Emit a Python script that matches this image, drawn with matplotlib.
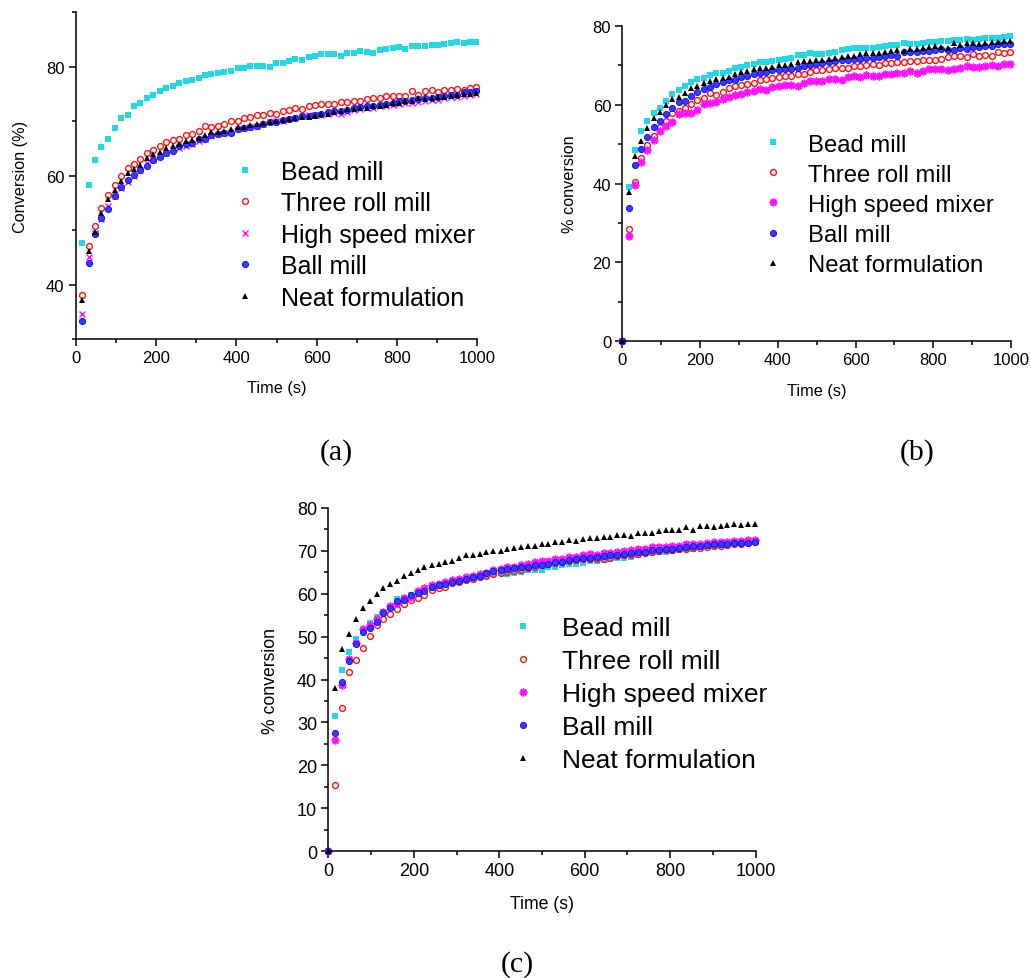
import matplotlib
matplotlib.use("Agg")
import matplotlib.pyplot as plt
from matplotlib.ticker import MultipleLocator

W, H = 1031, 979
DPI = 100

# sampling times (s)
time_s = [16, 32, 48, 64, 81, 97, 113, 129, 145, 161, 177, 193, 209, 225, 242, 258,
          274, 290, 306, 322, 338, 354, 370, 386, 403, 419, 435, 451, 467, 483, 499,
          515, 531, 547, 564, 580, 596, 612, 628, 644, 660, 676, 692, 708, 725, 741,
          757, 773, 789, 805, 821, 837, 853, 869, 886, 902, 918, 934, 950, 966, 982, 998]

labels = ["Bead mill", "Three roll mill", "High speed mixer", "Ball mill", "Neat formulation"]

# ---- (a) conversion (%) ----
a_bead = [47.7, 58.3, 62.9, 65.3, 66.8, 68.7, 70.6, 71.2, 72.7, 73.4, 74.2, 74.9, 75.5, 76.1,
          76.4, 77.1, 77.4, 77.6, 78.0, 78.5, 78.7, 78.8, 79.1, 79.3, 79.7, 79.7, 80.2, 80.1,
          80.2, 79.9, 80.6, 80.6, 81.1, 81.4, 81.3, 81.7, 81.9, 82.4, 82.4, 82.4, 82.0, 82.6,
          82.6, 82.9, 82.7, 82.5, 83.1, 83.2, 83.5, 83.6, 83.3, 83.9, 83.9, 83.9, 84.0, 84.0,
          84.1, 84.4, 84.6, 84.3, 84.6, 84.6]
a_three = [38.1, 47.1, 50.7, 54.0, 56.5, 58.3, 59.9, 61.4, 62.2, 63.0, 64.1, 64.8, 65.4, 66.1,
           66.5, 66.8, 67.4, 67.6, 68.2, 69.1, 69.0, 69.2, 69.5, 70.1, 70.1, 70.6, 70.8, 71.1,
           71.2, 71.5, 71.4, 71.9, 72.0, 72.5, 72.3, 72.8, 73.0, 73.1, 73.2, 73.2, 73.6, 73.6,
           73.8, 73.8, 74.1, 74.2, 74.2, 74.6, 74.7, 74.7, 74.7, 75.5, 74.9, 75.6, 75.7, 75.4,
           75.7, 75.8, 76.0, 75.8, 76.1, 76.2]
a_hsm = [34.6, 45.1, 49.4, 52.1, 54.5, 56.2, 57.7, 58.8, 59.9, 61.1, 62.4, 62.8, 63.7, 64.2,
         64.9, 65.1, 65.4, 65.9, 66.4, 66.7, 67.3, 67.7, 67.9, 68.1, 68.6, 68.8, 69.0, 69.2,
         69.5, 69.8, 70.0, 70.1, 70.4, 70.6, 71.0, 71.1, 71.1, 71.2, 71.4, 71.5, 71.4, 71.6,
         72.0, 72.2, 72.4, 72.5, 72.8, 72.8, 73.0, 73.1, 73.3, 73.4, 73.6, 73.8, 73.9, 73.9,
         74.2, 74.4, 74.5, 74.7, 74.8, 75.0]
a_ball = [33.3, 44.0, 49.2, 52.3, 53.9, 56.3, 58.0, 59.2, 60.1, 61.1, 61.7, 62.9, 63.4, 64.1,
          64.5, 65.5, 65.9, 66.0, 66.7, 66.7, 67.4, 67.6, 67.8, 67.9, 68.5, 68.7, 68.9, 69.1,
          69.4, 69.8, 69.9, 70.2, 70.4, 70.6, 70.9, 71.0, 71.2, 71.4, 71.7, 71.8, 71.8, 72.0,
          72.5, 72.6, 72.7, 72.8, 72.9, 73.2, 73.4, 73.7, 73.8, 73.9, 74.1, 74.2, 74.3, 74.4,
          74.7, 74.9, 74.9, 75.3, 75.3, 75.5]
a_neat = [37.1, 46.1, 49.6, 53.1, 55.7, 57.3, 59.0, 60.5, 61.2, 62.0, 63.2, 63.9, 64.4, 65.1,
          65.5, 65.8, 66.3, 66.5, 67.0, 67.4, 68.0, 68.1, 68.2, 68.5, 68.9, 69.0, 69.3, 69.5,
          69.7, 69.8, 70.0, 70.3, 70.4, 70.6, 70.7, 70.8, 71.0, 71.3, 71.3, 71.7, 71.9, 72.2,
          72.2, 72.4, 72.5, 72.7, 72.8, 73.0, 73.3, 73.4, 73.8, 73.8, 74.2, 74.1, 74.2, 74.5,
          74.5, 74.7, 74.9, 75.0, 75.0, 75.2]

# ---- (b) % conversion ----
b_bead = [39.2, 48.6, 53.3, 55.8, 58.0, 59.3, 61.0, 62.7, 63.7, 64.7, 65.7, 66.5, 66.8, 67.6,
          68.1, 68.1, 68.7, 69.4, 69.6, 70.0, 70.3, 70.9, 70.9, 71.1, 71.3, 71.7, 71.9, 72.6,
          72.6, 73.1, 73.0, 73.0, 73.2, 73.3, 73.9, 74.2, 74.3, 74.3, 74.5, 74.5, 74.7, 74.9,
          75.2, 75.3, 75.7, 75.5, 75.5, 75.7, 75.9, 75.9, 76.2, 76.2, 76.4, 76.5, 76.8, 76.4,
          76.7, 76.9, 77.0, 77.0, 77.1, 77.4]
b_three = [28.4, 40.5, 46.6, 49.9, 52.2, 54.5, 56.0, 57.8, 58.4, 59.3, 60.1, 61.2, 61.8, 62.9,
           62.6, 63.3, 64.2, 64.7, 65.1, 65.4, 65.5, 66.4, 66.6, 66.8, 67.1, 67.4, 67.4, 67.7,
           67.9, 68.4, 68.8, 68.9, 69.2, 69.3, 69.4, 69.3, 69.8, 69.8, 70.0, 70.3, 70.0, 70.5,
           70.6, 70.9, 70.8, 71.0, 71.2, 71.5, 71.5, 71.5, 71.7, 72.1, 72.3, 72.3, 72.2, 72.8,
           72.5, 72.6, 72.3, 73.3, 73.2, 73.3]
b_hsm = [26.8, 39.7, 45.6, 48.6, 51.2, 53.3, 54.6, 55.6, 57.6, 58.0, 58.0, 58.7, 60.3, 60.4,
         60.8, 61.5, 61.9, 62.4, 62.7, 63.3, 63.4, 63.9, 63.7, 64.6, 64.9, 65.1, 65.1, 64.9,
         65.5, 66.0, 66.0, 66.0, 66.5, 66.6, 66.4, 67.0, 67.3, 67.1, 67.6, 67.4, 67.3, 67.7,
         67.8, 68.1, 68.0, 68.6, 68.2, 68.6, 69.0, 69.0, 69.0, 68.8, 69.2, 69.3, 69.8, 69.7,
         69.6, 69.9, 70.0, 69.9, 70.3, 70.3]
b_ball = [33.8, 44.7, 48.7, 51.9, 54.3, 56.0, 57.7, 59.1, 60.8, 61.0, 62.2, 63.3, 64.0, 64.4,
          65.2, 65.9, 66.2, 66.4, 67.1, 67.3, 67.8, 68.2, 68.4, 68.8, 68.8, 69.0, 69.2, 69.4,
          69.9, 70.2, 70.4, 70.6, 70.8, 71.1, 71.5, 71.5, 71.7, 71.7, 72.0, 72.0, 72.2, 72.5,
          72.6, 72.5, 73.3, 73.4, 73.4, 73.6, 73.6, 73.8, 74.2, 74.0, 73.8, 74.3, 74.2, 74.6,
          74.7, 74.9, 75.0, 75.4, 75.5, 75.5]
b_neat = [38.0, 47.1, 50.7, 54.0, 56.6, 58.3, 60.0, 61.5, 62.1, 63.0, 64.2, 64.7, 65.5, 66.0,
          66.6, 66.8, 67.1, 67.7, 68.3, 68.6, 69.1, 69.3, 69.4, 69.6, 70.0, 70.2, 70.4, 70.8,
          71.0, 71.1, 71.3, 71.5, 71.7, 71.9, 72.1, 72.3, 72.5, 72.8, 73.1, 73.2, 73.2, 73.3,
          73.6, 73.8, 73.6, 74.2, 74.2, 74.3, 74.6, 74.8, 74.6, 74.5, 75.8, 75.1, 75.6, 75.8,
          75.5, 75.8, 76.0, 76.0, 76.1, 76.3]

# ---- (c) % conversion ----
c_bead = [31.4, 42.1, 46.3, 49.5, 51.5, 53.1, 54.5, 55.7, 56.8, 58.8, 59.0, 59.7, 60.3, 60.8,
          61.4, 61.8, 62.1, 62.4, 62.8, 63.1, 63.5, 64.0, 64.2, 64.5, 64.8, 64.6, 64.9, 65.1,
          65.4, 65.5, 65.6, 66.1, 66.3, 66.6, 66.9, 67.0, 67.2, 67.7, 67.6, 67.8, 68.0, 68.3,
          68.4, 68.6, 69.1, 69.4, 69.4, 69.6, 69.8, 70.0, 70.2, 70.5, 70.5, 70.8, 71.0, 71.1,
          71.3, 71.5, 71.7, 71.8, 71.9, 72.1]
c_three = [15.4, 33.4, 41.7, 44.5, 47.4, 50.2, 52.6, 54.2, 55.2, 56.4, 57.5, 58.5, 59.0, 59.7,
           60.8, 61.2, 61.6, 62.4, 62.8, 63.1, 63.3, 63.8, 64.2, 64.6, 64.9, 65.0, 65.2, 65.6,
           65.9, 66.2, 66.6, 67.0, 67.2, 67.4, 67.6, 67.9, 68.0, 68.0, 68.0, 68.0, 68.4, 68.8,
           69.1, 69.1, 69.3, 69.4, 69.6, 69.9, 70.1, 70.1, 70.3, 70.5, 70.6, 70.7, 70.8, 71.0,
           71.1, 71.3, 71.5, 71.6, 71.8, 71.9]
c_hsm = [25.8, 38.7, 44.8, 48.6, 51.7, 52.8, 54.2, 55.7, 57.0, 57.7, 59.0, 59.3, 60.7, 61.4,
         61.9, 62.3, 62.6, 63.1, 63.5, 63.8, 64.2, 64.5, 64.9, 65.4, 65.7, 66.1, 66.3, 66.6,
         67.0, 67.3, 67.5, 67.6, 68.0, 68.1, 68.5, 68.6, 69.0, 69.2, 69.1, 69.4, 69.5, 69.6,
         69.9, 70.1, 70.4, 70.5, 70.8, 70.9, 70.8, 71.1, 71.1, 71.5, 71.5, 71.6, 71.8, 72.0,
         72.1, 72.1, 72.2, 72.3, 72.4, 72.5]
c_ball = [27.6, 39.4, 44.2, 48.2, 51.0, 52.0, 53.5, 55.5, 56.7, 58.3, 58.6, 59.7, 60.1, 60.5,
          61.6, 61.9, 62.2, 62.6, 63.0, 63.4, 63.8, 64.2, 64.8, 65.2, 65.6, 65.7, 65.9, 66.1,
          66.3, 66.6, 66.7, 66.9, 67.3, 67.4, 67.8, 68.0, 68.2, 68.3, 68.5, 68.7, 68.9, 69.1,
          69.3, 69.4, 69.6, 69.8, 70.1, 70.2, 70.4, 70.5, 70.7, 70.9, 71.0, 71.1, 71.3, 71.5,
          71.5, 71.6, 71.7, 71.8, 71.8, 72.1]
c_neat = [38.0, 47.0, 50.7, 54.1, 56.7, 58.3, 60.0, 61.4, 62.2, 63.0, 64.2, 64.9, 65.5, 66.1,
          66.6, 66.8, 67.3, 67.6, 68.3, 69.0, 69.0, 69.2, 69.6, 70.0, 70.0, 70.4, 70.6, 70.8,
          71.1, 71.1, 71.5, 71.6, 71.9, 71.9, 72.4, 72.3, 72.7, 72.9, 73.0, 73.1, 73.2, 73.6,
          73.6, 73.5, 74.2, 74.2, 74.2, 74.5, 74.7, 74.7, 74.7, 75.6, 74.9, 75.7, 75.7, 75.5,
          75.8, 76.0, 76.1, 76.0, 76.3, 76.3]

SANS = ["Liberation Sans", "Arial", "DejaVu Sans"]
SERIF = ["Liberation Serif", "Times New Roman", "DejaVu Serif"]
plt.rcParams["font.family"] = SANS

CYAN = "#22d8e4"
RED = "#ff1010"
MAGENTA = "#ff10ff"
BLUE = "#1010ff"


def styles(star):
    hsm = dict(marker=(8, 2, 0), ms=5.6, mew=1.2, color=MAGENTA) if star else \
        dict(marker="x", ms=4.4, mew=1.0, color=MAGENTA)
    return [
        dict(marker="s", ms=4.0, mew=0, color=CYAN),
        dict(marker="o", ms=4.2, mew=1.0, color=RED, mfc="none"),
        hsm,
        dict(marker="o", ms=4.4, mew=0.7, color=BLUE, mfc="#3a3aff"),
        dict(marker="^", ms=5.0, mew=0, color="black"),
    ]


def px_rect(l, t, r, b):
    return [l / W, 1 - b / H, (r - l) / W, (b - t) / H]


fig = plt.figure(figsize=(W / DPI, H / DPI), dpi=DPI)


def panel(rect, series, ylim, ymaj, ymin, ylabel, fs_tick, leg, with_zero, star, ylpad):
    ax = fig.add_axes(px_rect(*rect))
    for vals, lab, st in zip(series, labels, styles(star)):
        xs, ys = list(time_s), list(vals)
        if with_zero:
            xs, ys = [0] + xs, [0.0] + ys
        ax.plot(xs, ys, ls="none", label=lab, clip_on=False, **st)
    ax.set_xlim(0, 1000)
    ax.set_ylim(*ylim)
    ax.xaxis.set_major_locator(MultipleLocator(200))
    ax.xaxis.set_minor_locator(MultipleLocator(100))
    ax.yaxis.set_major_locator(MultipleLocator(ymaj))
    ax.yaxis.set_minor_locator(MultipleLocator(ymin))
    for s in ("top", "right"):
        ax.spines[s].set_visible(False)
    for s in ("left", "bottom"):
        ax.spines[s].set_linewidth(1.1)
    ax.tick_params(which="major", direction="out", length=5, width=1.1,
                   labelsize=fs_tick, pad=3)
    ax.tick_params(which="minor", direction="out", length=3, width=1.1)
    ax.set_xlabel("Time (s)", fontsize=fs_tick - 0.3, labelpad=11)
    ax.set_ylabel(ylabel, fontsize=fs_tick - 0.3, labelpad=ylpad)
    fs, left, top, htp, lsp = leg
    ax.legend(loc="upper left", bbox_to_anchor=(left / W, 1 - top / H),
              bbox_transform=fig.transFigure, frameon=False, fontsize=fs,
              borderpad=0, borderaxespad=0, handlelength=1.0,
              handletextpad=htp, labelspacing=lsp, numpoints=1)
    return ax


panel((75.7, 13.3, 477.3, 340), [a_bead, a_three, a_hsm, a_ball, a_neat],
      (30, 90), 20, 10, "Conversion (%)", 12,
      (18, 232.5, 160.5, 0.94, 0.3), False, False, 13)
panel((622.3, 27, 1011, 342.3), [b_bead, b_three, b_hsm, b_ball, b_neat],
      (0, 80), 20, 10, "% conversion", 12,
      (17.2, 761.4, 134.5, 0.95, 0.34), True, True, 11)
panel((328.3, 508.7, 755.7, 852.3), [c_bead, c_three, c_hsm, c_ball, c_neat],
      (0, 80), 10, 5, "% conversion", 13,
      (19, 510.1, 617, 0.95, 0.34), True, True, 13)

for txt, x, y in (("(a)", 336.5, 453), ("(b)", 917, 453), ("(c)", 517.5, 965)):
    fig.text(x / W, 1 - y / H, txt, ha="center", va="center",
             fontsize=21.5, family=SERIF)

fig.savefig("out.png", dpi=DPI)
